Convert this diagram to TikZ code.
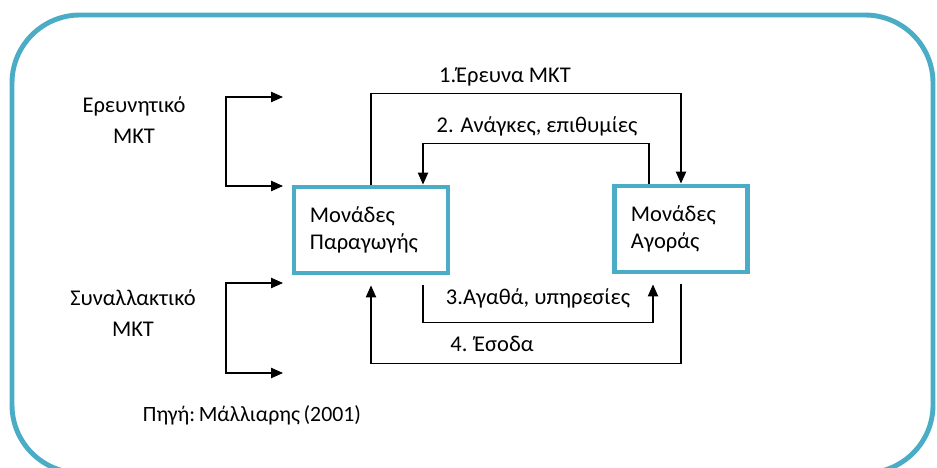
\documentclass[tikz,border=0pt]{standalone}
\usepackage{fontspec}
\setmainfont{Carlito}
\usetikzlibrary{positioning,arrows.meta}
\definecolor{frameblue}{HTML}{4BACC6}
\tikzset{
  unitbox/.style={draw=frameblue,line width=3.5pt,minimum height=2.15cm,
    align=left,inner ysep=0pt,font=\fontsize{16}{19.5}\selectfont},
  flow/.style={-{Triangle[length=3mm,width=2.6mm]},line width=0.8pt},
  twoway/.style={{Triangle[length=3mm,width=2.6mm]}-{Triangle[length=3mm,width=2.6mm]},line width=0.8pt},
  lbl/.style={font=\fontsize{16}{22}\selectfont,align=center,inner sep=0pt},
}
\begin{document}
\begin{tikzpicture}[x=0.025cm,y=-0.025cm]
  \useasboundingbox (0,0) rectangle (937,467);
  % outer frame
  \draw[frameblue,line width=3.5pt,rounded corners=1.7cm] (12,15) rectangle (933,473);
  % the two units
  \node[unitbox,text width=3.05cm,inner xsep=0.4cm] (prod) at (371,230) {Μονάδες\\Παραγωγής};
  \node[unitbox,text width=2.5cm,inner xsep=0.42cm] (mkt) at (681,229) {Μονάδες\\Αγοράς};
  % flows between them
  \draw[flow] (prod.north) -- ++(0,-91) -| (mkt.north);
  \draw[flow] ([xshift=-0.8cm]mkt.north) -- ++(0,-40) -| ([xshift=1.3cm]prod.north);
  \draw[flow] ([xshift=1.3cm,yshift=-0.25cm]prod.south) -- ++(0,37) -| ([xshift=-0.7cm,yshift=-0.25cm]mkt.south);
  \draw[flow] ([yshift=-0.25cm]mkt.south) -- ++(0,79) -| ([yshift=-0.25cm]prod.south);
  \node[lbl] (l1) at (505,77) {1.Έρευνα ΜΚΤ};
  \node[lbl] (l2) at (537,126) {2. Ανάγκες, επιθυμίες};
  \node[lbl] (l3) at (538,298) {3.Αγαθά, υπηρεσίες};
  \node[lbl] (l4) at (492,344) {4. Έσοδα};
  % kinds of marketing
  \node[lbl] (res) at (134,120) {Ερευνητικό\\ΜΚΤ};
  \node[lbl] (trs) at (133,313) {Συναλλακτικό\\ΜΚΤ};
  \coordinate (ra1) at (283,97);
  \coordinate (ra2) at (283,186);
  \coordinate (rb1) at (283,283);
  \coordinate (rb2) at (283,373);
  \draw[twoway] (ra1) -- ++(-57,0) |- (ra2);
  \draw[twoway] (rb1) -- ++(-57,0) |- (rb2);
  % source
  \node[lbl,font=\fontsize{15.5}{19}\selectfont] (src) at (252,415) {Πηγή:\,Μάλλιαρης\,(2001)};
\end{tikzpicture}
\end{document}
